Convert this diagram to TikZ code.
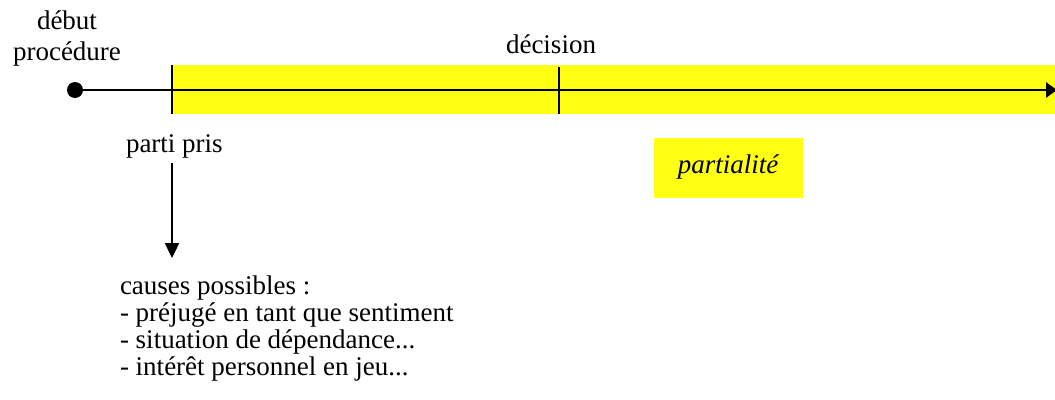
\documentclass[tikz,border=0pt]{standalone}
\usepackage{fontspec}
\setmainfont{Liberation Serif}
\usetikzlibrary{arrows.meta}
\definecolor{hl}{RGB}{255,255,20}
\tikzset{
  lbl/.style={inner sep=0pt, outer sep=0pt, anchor=base},
  axis/.style={line width=2.8pt},
  tickline/.style={line width=2.8pt},
}
\begin{document}
\begin{tikzpicture}[x=1pt,y=-1pt]
\useasboundingbox (0,0) rectangle (1055,399);
% highlight band
\fill[hl] (172,65) rectangle (1058,114);
\fill[hl] (654,138) rectangle (803,198);
% ticks
\coordinate (t1a) at (172,65);
\coordinate (t1b) at (172,114);
\coordinate (t2a) at (559,67);
\coordinate (t2b) at (559,114);
\draw[tickline] (t1a) -- (t1b);
\draw[tickline] (t2a) -- (t2b);
% axis
\node[circle, fill=black, minimum size=16pt, inner sep=0pt] (start) at (75,90) {};
\coordinate (end) at (1057,90);
\draw[axis, -{Triangle[length=11pt,width=15pt]}] (start.center) -- (end);
% labels
\node[lbl, align=center, font=\fontsize{27}{31}\selectfont] (debut) at (67,60) {début\\procédure};
\node[lbl, font=\fontsize{27}{31}\selectfont] (decision) at (551,53) {décision};
\node[lbl, anchor=base west, font=\fontsize{27}{31}\selectfont] (parti) at (126,152) {parti pris};
\node[lbl, font=\fontsize{27}{31}\itshape] (partialite) at (728,173) {partialité};
\coordinate (arrA) at (172,163);
\coordinate (arrB) at (172,258);
\draw[line width=2.4pt, -{Triangle[length=15pt,width=14pt]}] (arrA) -- (arrB);
\node[lbl, anchor=base west, align=left, font=\fontsize{27}{26.7}\selectfont] (causes) at (120,375) {causes possibles :\\- préjugé en tant que sentiment\\- situation de dépendance...\\- intérêt personnel en jeu...};
\end{tikzpicture}
\end{document}
